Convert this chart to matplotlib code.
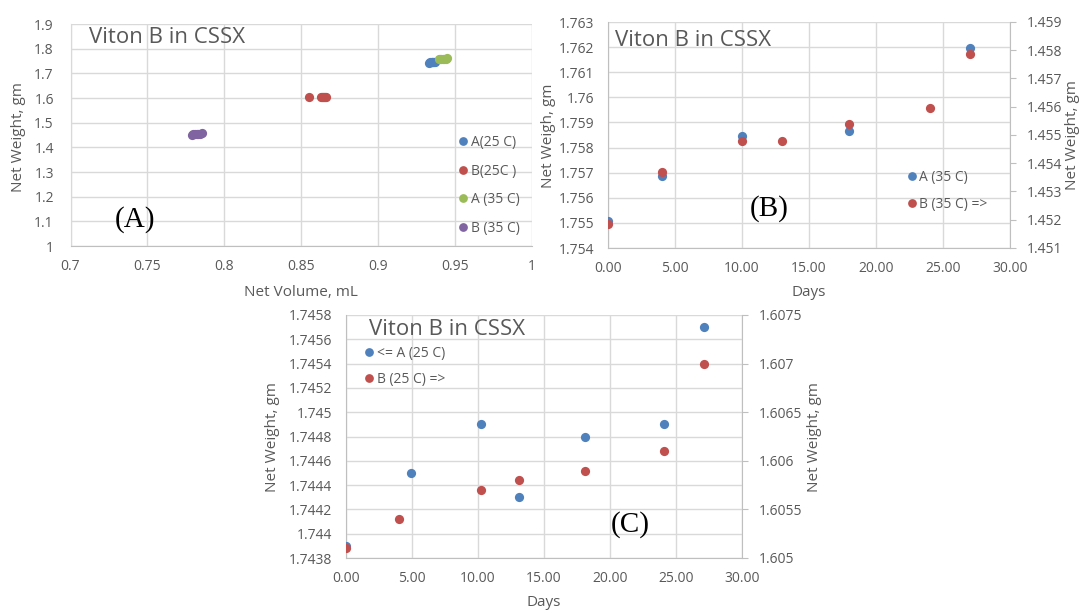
import matplotlib
matplotlib.use('Agg')
import matplotlib.pyplot as plt
from matplotlib.lines import Line2D
from matplotlib.ticker import FuncFormatter
import numpy as np

# ---------------- data ----------------
# Panel A: net weight vs net volume
vol_A25 = [0.9333, 0.9340, 0.9347, 0.9352, 0.9358, 0.9363, 0.9369]
wt_A25 = [1.7439, 1.7445, 1.7449, 1.7443, 1.7448, 1.7449, 1.7457]
vol_B25 = [0.8549, 0.8630, 0.8636, 0.8642, 0.8648, 0.8654, 0.8660]
wt_B25v = [1.6031, 1.6034, 1.6037, 1.6038, 1.6039, 1.6041, 1.6050]
vol_A35 = [0.9393, 0.9402, 0.9411, 0.9420, 0.9429, 0.9438, 0.9447]
wt_A35v = [1.7571, 1.7579, 1.7585, 1.7583, 1.7586, 1.7596, 1.7620]
vol_B35 = [0.7788, 0.7799, 0.7810, 0.7821, 0.7832, 0.7843, 0.7853]
wt_B35v = [1.4519, 1.4537, 1.4548, 1.4548, 1.4554, 1.4560, 1.4579]

# Panel B: 35 C, weight vs days
days_A35 = [0.0, 4.0, 10.0, 18.0, 27.0]
wt_A35 = [1.75509, 1.75687, 1.75845, 1.75864, 1.76197]
days_B35 = [0.0, 4.0, 10.0, 13.0, 18.0, 24.0, 27.0]
wt_B35 = [1.45186, 1.45369, 1.45477, 1.45477, 1.45539, 1.45595, 1.45787]

# Panel C: 25 C, weight vs days
days_A25 = [0.0, 4.9, 10.2, 13.1, 18.1, 24.1, 27.1]
wt_A25d = [1.7439, 1.7445, 1.7449, 1.7443, 1.7448, 1.7449, 1.7457]
days_B25 = [0.0, 4.0, 10.2, 13.1, 18.1, 24.1, 27.1]
wt_B25 = [1.6051, 1.6054, 1.6057, 1.6058, 1.6059, 1.6061, 1.6070]

labels_A = ['A(25 C)', 'B(25C )', 'A (35 C)', 'B (35 C)']
labels_B = ['A (35 C)', 'B (35 C) =>']
labels_C = ['<= A (25 C)', 'B (25 C) =>']

# ---------------- style ----------------
W, H = 1080, 610
FONT = 'Open Sans'
plt.rcParams['font.family'] = [FONT, 'DejaVu Sans']
TXT = '#595959'
GRID = '#D9D9D9'
SPINE = '#BFBFBF'
C_BLUE = '#4F81BD'
C_RED = '#C0504D'
C_GREEN = '#9BBB59'
C_PURPLE = '#8064A2'
MS = 44
TICK_FS = 10
LAB_FS = 11
LEG_FS = 10
TITLE_FS = 16

fig = plt.figure(figsize=(W / 100, H / 100), dpi=100)
fig.patch.set_facecolor('white')


def rect(l, t, r, b):
    return [l / W, 1 - b / H, (r - l) / W, (b - t) / H]


def fx(x):
    return x / W


def fy(y):
    return 1 - y / H


gfmt = FuncFormatter(lambda v, p: f"{round(v, 6):g}")
dfmt = FuncFormatter(lambda v, p: f"{v:.2f}")


def base_style(ax, xpad=9, ypad=10):
    ax.set_facecolor('white')
    ax.grid(True, color=GRID, lw=1)
    ax.set_axisbelow(True)
    for s in ax.spines.values():
        s.set_visible(False)
    ax.spines['bottom'].set_visible(True)
    ax.spines['bottom'].set_color(SPINE)
    ax.spines['left'].set_visible(True)
    ax.spines['left'].set_color(GRID)
    ax.tick_params(axis='both', length=0, labelsize=TICK_FS, labelcolor=TXT)
    ax.tick_params(axis='x', pad=xpad)
    ax.tick_params(axis='y', pad=ypad)


def right_style(ax2, pad=8):
    for s in ax2.spines.values():
        s.set_visible(False)
    ax2.spines['right'].set_visible(True)
    ax2.spines['right'].set_color(SPINE)
    ax2.tick_params(axis='y', length=4, color=SPINE, labelsize=TICK_FS,
                    labelcolor=TXT, pad=pad)


def xlabel(ax, text, x, y):
    ax.set_xlabel(text, fontsize=LAB_FS, color=TXT)
    ax.xaxis.set_label_coords(fx(x), fy(y), transform=fig.transFigure)
    ax.xaxis.label.set_va('center')


def ylabel(ax, text, x, y):
    ax.set_ylabel(text, fontsize=LAB_FS, color=TXT)
    ax.yaxis.set_label_coords(fx(x), fy(y), transform=fig.transFigure)
    ax.yaxis.label.set_va('center')
    ax.yaxis.label.set_ha('center')


def legend(ax, handles, labels, x0, top, spacing, tpad):
    leg = ax.legend(handles, labels, loc='upper left',
                    bbox_to_anchor=(fx(x0), fy(top)),
                    bbox_transform=fig.transFigure, frameon=False,
                    fontsize=LEG_FS, labelcolor=TXT, borderpad=0,
                    borderaxespad=0, handlelength=0.8, handletextpad=tpad,
                    labelspacing=spacing)
    leg.set_zorder(10)
    return leg


def handle(c):
    return Line2D([], [], ls='', marker='o', markersize=6.3, color=c,
                  markeredgewidth=0)


def title(x, y, text):
    fig.text(fx(x), fy(y), text, fontsize=TITLE_FS, color=TXT,
             va='baseline', ha='left')


def tag(x, y, text):
    fig.text(fx(x), fy(y), text, fontsize=21, family='Liberation Serif',
             color='black', va='baseline', ha='center')


# ---------------- Panel A ----------------
axA = fig.add_axes(rect(70.5, 24, 532, 246))
base_style(axA, xpad=9, ypad=12)
axA.scatter(vol_A25, wt_A25, s=MS, color=C_BLUE, lw=0, zorder=3)
axA.scatter(vol_B25, wt_B25v, s=MS, color=C_RED, lw=0, zorder=3)
axA.scatter(vol_A35, wt_A35v, s=MS, color=C_GREEN, lw=0, zorder=3)
axA.scatter(vol_B35, wt_B35v, s=MS, color=C_PURPLE, lw=0, zorder=3)
axA.set_xlim(0.7, 1.0)
axA.set_ylim(1.0, 1.9)
axA.set_xticks(np.linspace(0.7, 1.0, 7))
axA.set_yticks(np.linspace(1.0, 1.9, 10))
axA.xaxis.set_major_formatter(gfmt)
axA.yaxis.set_major_formatter(gfmt)
xlabel(axA, 'Net Volume, mL', 301, 292)
ylabel(axA, 'Net Weight, gm', 19, 137)
legend(axA, [handle(c) for c in (C_BLUE, C_RED, C_GREEN, C_PURPLE)], labels_A,
       457.4, 134.8, 0.99, 0.18)
title(89, 43, 'Viton B in CSSX')
tag(134.5, 227, '(A)')

# ---------------- Panel B ----------------
axB = fig.add_axes(rect(608, 22, 1010, 248))
base_style(axB, xpad=9, ypad=10)
axB.spines['left'].set_color(SPINE)
axB.scatter(days_A35, wt_A35, s=MS, color=C_BLUE, lw=0, zorder=3)
axB.set_xlim(0, 30)
axB.set_ylim(1.754, 1.763)
axB.set_xticks(np.linspace(0, 30, 7))
axB.set_yticks(np.linspace(1.754, 1.763, 10))
axB.xaxis.set_major_formatter(dfmt)
axB.yaxis.set_major_formatter(gfmt)
axB2 = axB.twinx()
right_style(axB2)
axB2.scatter(days_B35, wt_B35, s=MS, color=C_RED, lw=0, zorder=3)
axB2.set_ylim(1.451, 1.459)
axB2.set_yticks(np.linspace(1.451, 1.459, 9))
axB2.yaxis.set_major_formatter(gfmt)
xlabel(axB, 'Days', 809, 293)
ylabel(axB, 'Net Weigh, gm', 549, 136)
ylabel(axB2, 'Net Weight, gm', 1073, 135)
legend(axB2, [handle(C_BLUE), handle(C_RED)], labels_B, 906.4, 169.8, 0.9, 0.11)
title(615, 46, 'Viton B in CSSX')
tag(769.5, 216, '(B)')

# ---------------- Panel C ----------------
axC = fig.add_axes(rect(346, 315, 742, 558))
base_style(axC, xpad=9, ypad=10)
axC.spines['left'].set_color(SPINE)
axC.scatter(days_A25, wt_A25d, s=MS, color=C_BLUE, lw=0, zorder=3)
axC.set_xlim(0, 30)
axC.set_ylim(1.7438, 1.7458)
axC.set_xticks(np.linspace(0, 30, 7))
axC.set_yticks(np.linspace(1.7438, 1.7458, 11))
axC.xaxis.set_major_formatter(dfmt)
axC.yaxis.set_major_formatter(gfmt)
axC2 = axC.twinx()
right_style(axC2)
axC2.scatter(days_B25, wt_B25, s=MS, color=C_RED, lw=0, zorder=3)
axC2.set_ylim(1.605, 1.6075)
axC2.set_yticks(np.linspace(1.605, 1.6075, 6))
axC2.yaxis.set_major_formatter(gfmt)
xlabel(axC, 'Days', 544, 603)
ylabel(axC, 'Net Weight, gm', 273, 437)
ylabel(axC2, 'Net Weight, gm', 815, 437)
legend(axC2, [handle(C_BLUE), handle(C_RED)], labels_C, 363.4, 345.8, 0.83, 0.18)
title(369, 335, 'Viton B in CSSX')
tag(630.5, 532, '(C)')

fig.savefig('out.png', dpi=100, facecolor='white')
